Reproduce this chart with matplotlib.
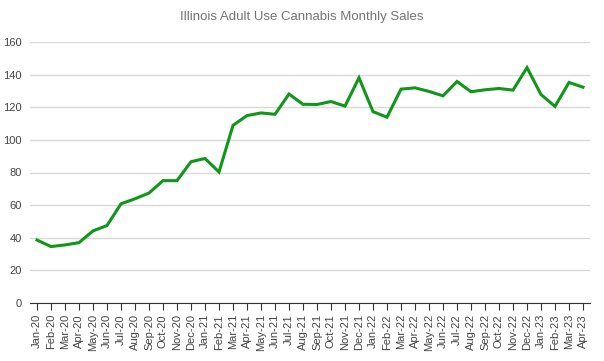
import matplotlib
matplotlib.use("Agg")
import matplotlib.pyplot as plt

months = ["Jan-20", "Feb-20", "Mar-20", "Apr-20", "May-20", "Jun-20", "Jul-20", "Aug-20",
          "Sep-20", "Oct-20", "Nov-20", "Dec-20", "Jan-21", "Feb-21", "Mar-21", "Apr-21",
          "May-21", "Jun-21", "Jul-21", "Aug-21", "Sep-21", "Oct-21", "Nov-21", "Dec-21",
          "Jan-22", "Feb-22", "Mar-22", "Apr-22", "May-22", "Jun-22", "Jul-22", "Aug-22",
          "Sep-22", "Oct-22", "Nov-22", "Dec-22", "Jan-23", "Feb-23", "Mar-23", "Apr-23"]
sales = [38.6, 34.6, 35.6, 37.0, 44.2, 47.5, 60.8, 63.9, 67.4, 75.0, 75.0, 86.6, 88.6,
         80.3, 108.9, 114.9, 116.5, 115.7, 128.1, 121.8, 121.7, 123.5, 120.7, 138.1,
         117.3, 113.9, 131.1, 131.9, 129.7, 127.0, 135.8, 129.5, 130.7, 131.5, 130.5,
         144.3, 127.8, 120.5, 135.2, 132.3]
yticks = [0, 20, 40, 60, 80, 100, 120, 140, 160]

plt.rcParams['font.family'] = ['Liberation Sans', 'DejaVu Sans']

fig = plt.figure(figsize=(6.04, 3.61), dpi=100)
ax = fig.add_axes([30/604, 58/361, 560/604, 261/361])

x = range(len(months))
ax.plot(x, sales, color='#109618', lw=2.2, solid_joinstyle='miter')

ax.set_xlim(-0.5, len(months) - 0.5)
ax.set_ylim(0, 160)
ax.set_yticks(yticks)
ax.set_xticks(list(x))
ax.set_xticklabels(months, rotation=90, fontsize=8, color='#444444')
ax.tick_params(axis='y', length=0, labelsize=8, labelcolor='#444444', pad=6)
ax.tick_params(axis='x', length=5, width=0.8, color='#333333', pad=3)
ax.grid(axis='y', color='#d9d9d9', lw=1)
ax.set_axisbelow(True)
for s in ['top', 'right', 'left']:
    ax.spines[s].set_visible(False)
ax.spines['bottom'].set_color('#333333')
ax.spines['bottom'].set_linewidth(0.8)

fig.text(0.5, 1 - 17/361, "Illinois Adult Use Cannabis Monthly Sales", ha='center', va='center',
         fontsize=9.5, color='#757575')

fig.savefig("out.png", dpi=100)
